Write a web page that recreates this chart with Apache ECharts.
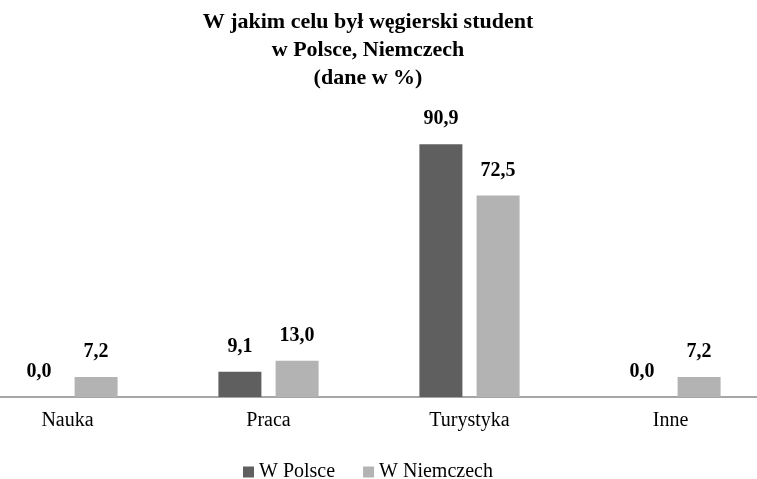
<!DOCTYPE html>
<html>
<head>
<meta charset="utf-8">
<script src="https://cdn.jsdelivr.net/npm/echarts@6/dist/echarts.min.js"></script>
<style>
  html, body { margin: 0; padding: 0; background: #fff; }
  #chart { width: 757px; height: 479px; }
</style>
</head>
<body>
<div id="chart"></div>
<script>
// dane z wykresu
var categories = ["Nauka", "Praca", "Turystyka", "Inne"];
var seriesNames = ["W Polsce", "W Niemczech"];
var polsce = [0.0, 9.1, 90.9, 0.0];
var niemczech = [7.2, 13.0, 72.5, 7.2];

var serif = "'Liberation Serif', 'Times New Roman', serif";

var myChart = echarts.init(document.getElementById("chart"));

function fmt(p) {
  return p.value.toFixed(1).replace(".", ",");
}

var option = {
  backgroundColor: "#fff",
  animation: false,
  title: {
    text: "W jakim celu był węgierski student\nw Polsce, Niemczech\n(dane w %)",
    left: 368,
    textAlign: "center",
    top: 8,
    padding: 0,
    textStyle: {
      fontFamily: serif,
      fontWeight: "bold",
      fontSize: 22,
      lineHeight: 28,
      color: "#000",
    },
  },
  legend: {
    data: seriesNames,
    left: 243,
    top: 462,
    padding: 0,
    itemWidth: 11,
    itemHeight: 11,
    itemGap: 28,
    icon: "rect",
    textStyle: {
      fontFamily: serif,
      fontSize: 20,
      color: "#000",
    },
  },
  grid: {
    left: -33,
    right: -14,
    top: 119,
    bottom: 82,
    outerBoundsMode: "none",
    containLabel: false,
  },
  xAxis: {
    type: "category",
    data: categories,
    axisLine: {
      show: true,
      lineStyle: { color: "#a6a6a6", width: 2 },
    },
    axisTick: { show: false },
    axisLabel: {
      margin: 14,
      fontFamily: serif,
      fontSize: 20,
      color: "#000",
    },
  },
  yAxis: {
    type: "value",
    min: 0,
    max: 100,
    show: false,
    splitLine: { show: false },
  },
  series: [
    {
      name: seriesNames[0],
      type: "bar",
      data: polsce,
      barWidth: 43,
      barGap: "33%",
      itemStyle: { color: "#5f5f5f" },
      label: {
        show: true,
        position: "top",
        distance: 15,
        formatter: fmt,
        fontFamily: serif,
        fontWeight: "bold",
        fontSize: 20,
        color: "#000",
      },
    },
    {
      name: seriesNames[1],
      type: "bar",
      data: niemczech,
      barWidth: 43,
      barGap: "33%",
      itemStyle: { color: "#b3b3b3" },
      label: {
        show: true,
        position: "top",
        distance: 15,
        formatter: fmt,
        fontFamily: serif,
        fontWeight: "bold",
        fontSize: 20,
        color: "#000",
      },
    },
  ],
};

myChart.setOption(option);
</script>
</body>
</html>
